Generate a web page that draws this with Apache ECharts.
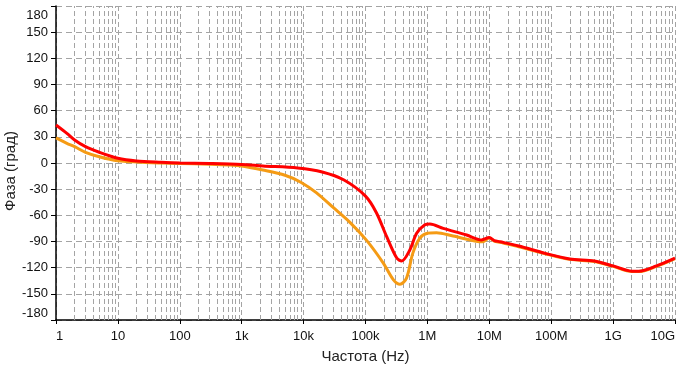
<!DOCTYPE html>
<html>
<head>
<meta charset="utf-8">
<script src="https://cdn.jsdelivr.net/npm/echarts@6/dist/echarts.min.js"></script>
<style>
html,body{margin:0;padding:0;background:#fff;}
#chart{width:681px;height:369px;}
</style>
</head>
<body>
<div id="chart"></div>
<script>
const xTickLabels = ['1','10','100','1k','10k','100k','1M','10M','100M','1G','10G'];
const yMin = -180, yMax = 180, yStep = 30;

const redFreq = [1, 1.5, 2, 3, 5, 10, 20, 50, 100, 300, 1e3, 2.2e3, 8e3, 2e4, 4.5e4, 1e5, 1.5e5, 2.2e5, 3.2e5, 3.85e5, 5.2e5, 6.7e5, 9e5, 1.1e6, 1.8e6, 4.3e6, 7.5e6, 1e7, 1.2e7, 1.5e7, 3e7, 8e7, 2e8, 5e8, 1e9, 2e9, 2.6e9, 5e9, 1e10];
const redPhase = [43.6, 34, 26.4, 18.7, 12.3, 5.4, 2.3, 0.8, 0, -0.6, -1.7, -3.4, -5.7, -10.3, -19.5, -38, -57, -84.5, -109, -112.4, -99.8, -80.6, -71, -70, -75, -82.6, -88.3, -85.4, -88.9, -90.3, -95.2, -103.6, -110, -112.4, -118, -124, -124, -118, -109];

const orangeFreq = [1, 1.5, 2, 3, 5, 10, 20, 50, 100, 300, 650, 1e3, 2.2e3, 5e3, 9e3, 1.6e4, 3e4, 5.6e4, 1.05e5, 1.95e5, 2.83e5, 3.6e5, 4.6e5, 5.8e5, 7.5e5, 1e6, 1.4e6, 2.6e6, 7.8e6, 1e7, 1.2e7, 1.5e7, 3e7, 8e7, 2e8, 5e8, 1e9, 2e9, 2.6e9, 5e9, 1e10];
const orangePhase = [28.7, 22.6, 18.7, 12.3, 7.2, 2.6, 1.1, 0, -0.6, -1.4, -2.3, -3.4, -8, -14, -22, -34, -51, -68, -89, -115, -134, -139, -132, -103.6, -86.4, -80.6, -80, -83.7, -90.3, -86, -89.5, -91, -96, -104, -110.5, -113, -118.5, -124.5, -124.5, -118.5, -109.5];

const redData = redFreq.map((f, i) => [f, redPhase[i]]);
const orangeData = orangeFreq.map((f, i) => [f, orangePhase[i]]);

// minor vertical grid lines at 2..9 x 10^k
const gridVals = [];
for (let k = 0; k < 10; k++) {
  for (let m = 2; m <= 9; m++) gridVals.push(m * Math.pow(10, k));
}

const gridStyle = { color: '#a4a4a4', width: 1, type: [5, 3] };
const font = 'Liberation Sans, Arial, sans-serif';

const chart = echarts.init(document.getElementById('chart'), null, { renderer: 'canvas' });
chart.setOption({
  animation: false,
  backgroundColor: '#ffffff',
  grid: { left: 56, right: 6, top: 6, bottom: 49, containLabel: false, outerBoundsMode: 'none' },
  xAxis: {
    type: 'log',
    logBase: 10,
    min: 1,
    max: 1e10,
    interval: 1,
    splitNumber: 10,
    name: 'Частота (Hz)',
    nameLocation: 'middle',
    nameGap: 29,
    nameMoveOverlap: false,
    nameTextStyle: { fontFamily: font, fontSize: 15, color: '#222' },
    axisLine: { show: true, onZero: false, lineStyle: { color: '#000', width: 1.5 } },
    axisTick: { show: true, inside: false, length: 4, lineStyle: { color: '#000' } },
    axisLabel: {
      fontFamily: font, fontSize: 13, color: '#111', margin: 10,
      alignMinLabel: 'left', alignMaxLabel: 'right',
      formatter: v => xTickLabels[Math.round(Math.log10(v))]
    },
    splitLine: { show: true, lineStyle: gridStyle }
  },
  yAxis: {
    type: 'value',
    min: yMin,
    max: yMax,
    interval: yStep,
    name: 'Фаза (град)',
    nameLocation: 'middle',
    nameGap: 38,
    nameMoveOverlap: false,
    nameTextStyle: { fontFamily: font, fontSize: 15, color: '#222', padding: [0, 16, 0, 0] },
    axisLine: { show: true, onZero: false, lineStyle: { color: '#000', width: 1.5 } },
    axisTick: { show: true, inside: false, length: 5, lineStyle: { color: '#000' } },
    axisLabel: {
      fontFamily: font, fontSize: 13, color: '#111', margin: 8,
      formatter: v => v === yMax ? '{t|' + v + '}' : (v === yMin ? '{b|' + v + '}' : String(v)),
      rich: {
        t: { fontFamily: font, fontSize: 13, color: '#111', padding: [18, 0, 0, 0] },
        b: { fontFamily: font, fontSize: 13, color: '#111', padding: [0, 0, 14, 0] }
      }
    },
    splitLine: { show: true, lineStyle: { color: '#a4a4a4', width: 1, type: [6, 4] } }
  },
  series: [
    {
      type: 'line',
      name: 'grid',
      data: [],
      z: 1,
      silent: true,
      markLine: {
        silent: true,
        symbol: ['none', 'none'],
        label: { show: false },
        z: 1,
        lineStyle: gridStyle,
        emphasis: { disabled: true },
        data: gridVals.map(v => ({ xAxis: v }))
      }
    },
    {
      type: 'line',
      name: 'orange',
      data: orangeData,
      smooth: 0.3,
      showSymbol: false,
      z: 5,
      lineStyle: { color: '#f59b14', width: 3 },
      itemStyle: { color: '#f59b14' }
    },
    {
      type: 'line',
      name: 'red',
      data: redData,
      smooth: 0.3,
      showSymbol: false,
      z: 6,
      lineStyle: { color: '#ff0000', width: 3 },
      itemStyle: { color: '#ff0000' }
    }
  ]
});
</script>
</body>
</html>
